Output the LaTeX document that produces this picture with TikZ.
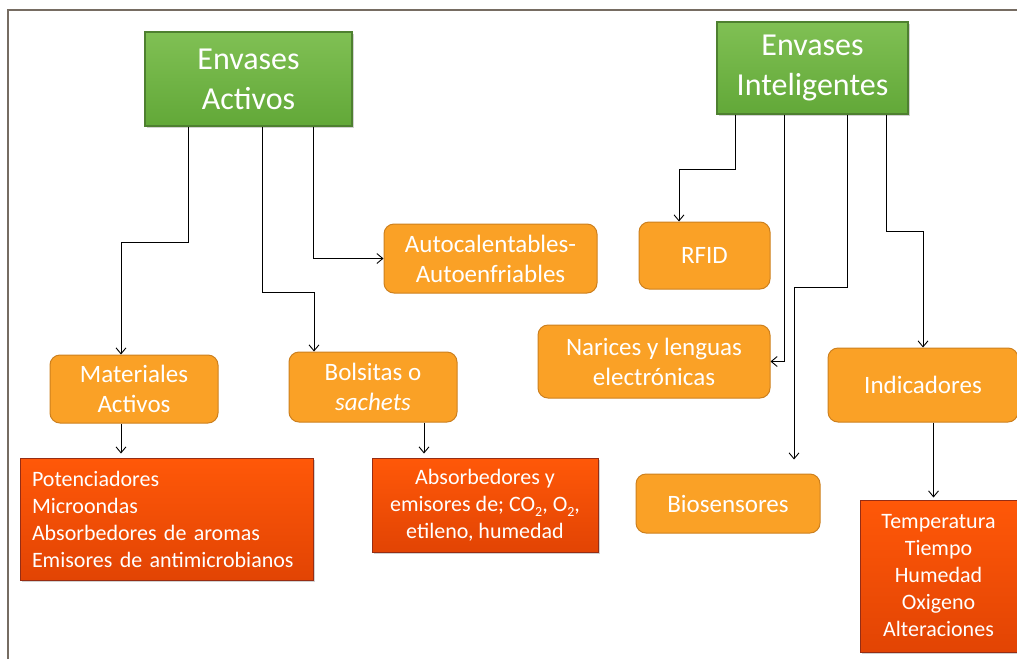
\documentclass[tikz,border=0pt]{standalone}
\usepackage{fontspec}
\setmainfont{Carlito}
\usetikzlibrary{arrows.meta,shadows}
\definecolor{framecol}{RGB}{118,108,98}
\definecolor{greentop}{RGB}{128,192,84}
\definecolor{greenbot}{RGB}{98,168,56}
\definecolor{greenline}{RGB}{78,128,48}
\definecolor{orangefill}{RGB}{250,161,38}
\definecolor{orangeline}{RGB}{205,128,30}
\definecolor{redtop}{RGB}{255,88,8}
\definecolor{redbot}{RGB}{226,68,4}
\definecolor{redline}{RGB}{150,45,20}
\newcommand{\lowtwo}{\raisebox{-0.25em}{\fontsize{14}{14}\selectfont 2}}
\tikzset{
  headbox/.style={draw=greenline, line width=1.2pt, top color=greentop, bottom color=greenbot,
    text=white, align=center, font=\fontsize{32}{40}\selectfont, inner sep=0pt,
    drop shadow={shadow xshift=1.5pt, shadow yshift=-1.5pt, opacity=0.35}},
  midbox/.style={draw=orangeline, line width=1pt, fill=orangefill, rounded corners=10pt,
    text=white, align=center, font=\fontsize{25}{30}\selectfont, inner sep=0pt},
  leafbox/.style={draw=redline, line width=1pt, top color=redtop, bottom color=redbot,
    text=white, font=\fontsize{22}{27}\selectfont, inner sep=0pt,
    drop shadow={shadow xshift=1.5pt, shadow yshift=-1.5pt, opacity=0.35}},
  conn/.style={draw=black, line width=0.9pt, -{Straight Barb[length=6pt,width=10pt]}},
}
\begin{document}
\begin{tikzpicture}[x=1pt,y=-1pt]
\useasboundingbox (0,0) rectangle (1017,659);
\fill[white] (0,0) rectangle (1017,659);
\draw[framecol, line width=2pt] (8,659) -- (8,10) -- (1017,10);

% head nodes
\node[headbox, minimum width=207pt, minimum height=94pt] (EA) at (248.5,79) {Envases\\Activos};
\node[headbox, minimum width=191pt, minimum height=92pt] (EI) at (812.5,68) {Envases\\Inteligentes};

% middle nodes
\node[midbox, minimum width=213pt, minimum height=69pt] (Auto) at (490.5,258.5) {Autocalentables-\\Autoenfriables};
\node[midbox, minimum width=131pt, minimum height=67pt] (RFID) at (704.5,255.5) {RFID};
\node[midbox, minimum width=168pt, minimum height=68pt] (Mat) at (134,389) {Materiales\\Activos};
\node[midbox, minimum width=168pt, minimum height=70pt] (Bol) at (373,387) {Bolsitas o\\\textit{sachets}};
\node[midbox, minimum width=232pt, minimum height=73pt] (Nar) at (654,361.5) {Narices y lenguas\\electrónicas};
\node[midbox, minimum width=190pt, minimum height=74pt] (Ind) at (923,385) {Indicadores};
\node[midbox, minimum width=184pt, minimum height=59pt] (Bio) at (728,503.5) {Biosensores};

% leaf nodes
\node[leafbox, minimum width=293pt, minimum height=122pt, text width=269pt, align=left] (Pot) at (166.5,519)
  {Potenciadores\\Microondas\\Absorbedores de aromas\\Emisores de antimicrobianos};
\node[leafbox, minimum width=226pt, minimum height=94pt, align=center] (Abs) at (485,505)
  {Absorbedores y\\emisores de; CO\lowtwo, O\lowtwo,\\etileno, humedad};
\node[leafbox, minimum width=157pt, minimum height=152pt, align=center] (Temp) at (938.5,576)
  {Temperatura\\Tiempo\\Humedad\\Oxigeno\\Alteraciones};

% connectors: Envases Activos
\draw[conn] ([xshift=-60.5pt]EA.south) -- ++(0,116) -| ([xshift=-13pt]Mat.north);
\draw[conn] ([xshift=13.5pt]EA.south) -- ++(0,166) -| ([xshift=-59pt]Bol.north);
\draw[conn] ([xshift=64.5pt]EA.south) |- (Auto.west);
\draw[conn] ([xshift=-13pt]Mat.south) -- ([xshift=-13pt,yshift=4pt]Mat.south |- Pot.north);
\draw[conn] ([xshift=51pt]Bol.south) -- ([xshift=51pt,yshift=4pt]Bol.south |- Abs.north);

% connectors: Envases Inteligentes
\draw[conn] ([xshift=-77.5pt]EI.south) -- ++(0,55) -| ([xshift=-25.5pt]RFID.north);
\draw[conn] ([xshift=-28.5pt]EI.south) |- (Nar.east);
\draw[conn] ([xshift=34.5pt]EI.south) -- ++(0,173) -| ([xshift=66pt,yshift=14pt]Bio.north);
\draw[conn] ([xshift=73.5pt]EI.south) -- ++(0,117) -| (Ind.north);
\draw[conn] ([xshift=10.5pt]Ind.south) -- ([xshift=10.5pt,yshift=2pt]Ind.south |- Temp.north);
\end{tikzpicture}
\end{document}
